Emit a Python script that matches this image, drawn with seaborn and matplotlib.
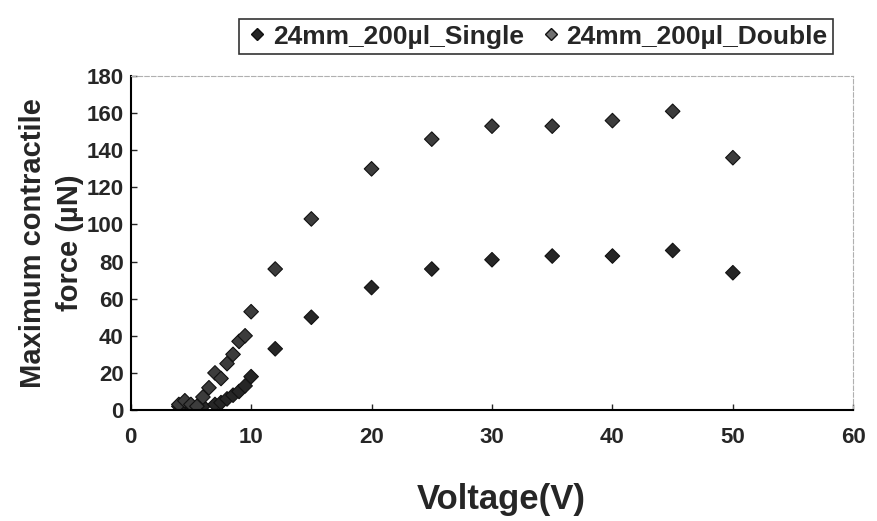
import numpy as np
import matplotlib
matplotlib.use("Agg")
import matplotlib.pyplot as plt
import seaborn as sns
import pandas as pd

# ------------------------------------------
# data
# ------------------------------------------
single_v = [4, 4.5, 5, 5.5, 6, 7, 7.5, 8, 8.5, 9, 9.5, 10, 12, 15, 20, 25, 30, 35, 40, 45, 50]
single_f = [2, 3, 2, 1.5, 2, 3, 4, 6, 8, 10, 13, 18, 33, 50, 66, 76, 81, 83, 83, 86, 74]

double_v = [4, 4.5, 5, 5.5, 6, 6.5, 7, 7.5, 8, 8.5, 9, 9.5, 10, 12, 15, 20, 25, 30, 35, 40, 45, 50]
double_f = [3, 5, 3, 2, 7, 12, 20, 17, 25, 30, 37, 40, 53, 76, 103, 130, 146, 153, 153, 156, 161, 136]

labels = ["24mm_200\u00b5l_Single", "24mm_200\u00b5l_Double"]
colors = ["#262626", "#3c3c3c"]
legend_colors = ["#262626", "#707070"]

df = pd.concat([
    pd.DataFrame({"Voltage": single_v, "Force": single_f, "Series": labels[0]}),
    pd.DataFrame({"Voltage": double_v, "Force": double_f, "Series": labels[1]}),
])

sns.set_style("white")
plt.rcParams["font.family"] = ["Liberation Sans", "DejaVu Sans"]
plt.rcParams["font.weight"] = "bold"

fig = plt.figure(figsize=(8.77, 5.21), dpi=100)
ax = fig.add_axes([0.149, 0.213, 0.824, 0.641])

sns.scatterplot(data=df, x="Voltage", y="Force", hue="Series", style="Series",
                markers={labels[0]: "D", labels[1]: "D"},
                palette=dict(zip(labels, colors)),
                edgecolor="#111111", linewidth=0.8, s=55, legend=False, ax=ax)

ax.set_xlim(0, 60)
ax.set_ylim(0, 180)
ax.set_xticks(np.arange(0, 61, 10))
ax.set_yticks(np.arange(0, 181, 20))
ax.tick_params(axis="both", labelsize=16, direction="in", length=4, width=1, pad=5,
               bottom=True, left=True)
ax.tick_params(axis="x", pad=12)
for lab in ax.get_xticklabels() + ax.get_yticklabels():
    lab.set_fontweight("bold")

for side in ["left", "bottom"]:
    ax.spines[side].set_color("black")
    ax.spines[side].set_linewidth(1.5)
for side in ["top", "right"]:
    ax.spines[side].set_color("#b0b0b0")
    ax.spines[side].set_linewidth(0.8)
    ax.spines[side].set_linestyle((0, (4, 2)))

ax.set_xlabel("Voltage(V)", fontsize=25, fontweight="bold", labelpad=26)
ax.xaxis.set_label_coords(0.513, -0.22)
ax.set_ylabel("Maximum contractile\nforce (\u00b5N)", fontsize=21, fontweight="bold",
              labelpad=2, linespacing=1.4)

handles = [plt.Line2D([], [], marker="D", linestyle="none", markersize=6.5,
                      markerfacecolor=c, markeredgecolor="#111111")
           for c in legend_colors]
leg = fig.legend(handles, labels, loc="upper center", bbox_to_anchor=(0.611, 0.988),
                 ncol=2, frameon=True, fancybox=False,
                 handletextpad=0.1, columnspacing=0.5, handlelength=1.0,
                 borderpad=0.2, prop={"weight": "bold", "size": 19})
leg.get_frame().set_edgecolor("black")
leg.get_frame().set_linewidth(1.2)

fig.savefig("out.png", dpi=100)
